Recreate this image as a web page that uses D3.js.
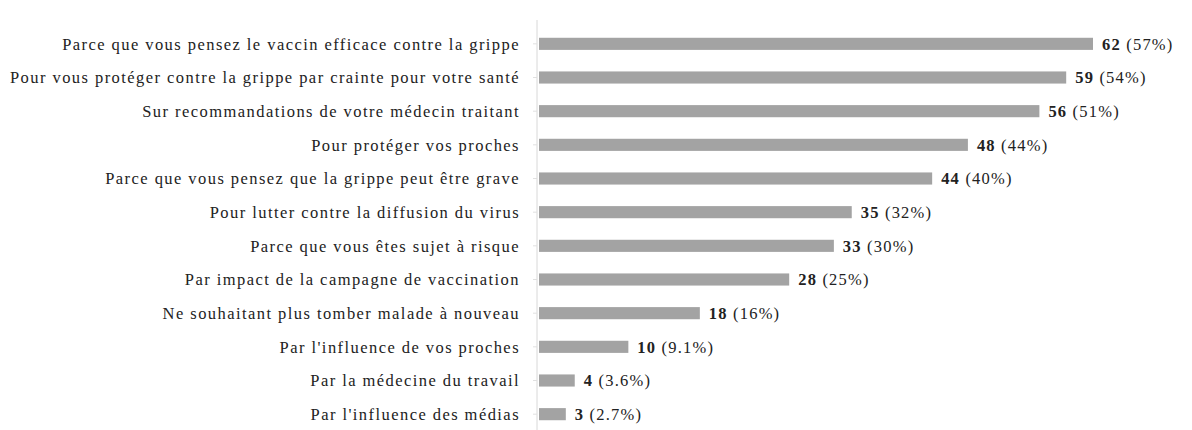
<!DOCTYPE html>
<html><head><meta charset="utf-8">
<script src="https://cdn.jsdelivr.net/npm/d3@7"></script>
<style>body{margin:0;background:#fff}svg{display:block}</style>
</head><body>
<svg id="c" width="1192" height="430"></svg>
<script>
const categories = [
  "Parce que vous pensez le vaccin efficace contre la grippe",
  "Pour vous protéger contre la grippe par crainte pour votre santé",
  "Sur recommandations de votre médecin traitant",
  "Pour protéger vos proches",
  "Parce que vous pensez que la grippe peut être grave",
  "Pour lutter contre la diffusion du virus",
  "Parce que vous êtes sujet à risque",
  "Par impact de la campagne de vaccination",
  "Ne souhaitant plus tomber malade à nouveau",
  "Par l'influence de vos proches",
  "Par la médecine du travail",
  "Par l'influence des médias"
];
const counts = [62, 59, 56, 48, 44, 35, 33, 28, 18, 10, 4, 3];
const percents = ["57%", "54%", "51%", "44%", "40%", "32%", "30%", "25%", "16%", "9.1%", "3.6%", "2.7%"];

const svg = d3.select("#c");
const axisX = 537;
const x = d3.scaleLinear().domain([0, 62]).range([axisX + 2, 1093]);
const y = d3.scaleBand().domain(categories).range([27, 431]).paddingInner(0.64).paddingOuter(0.32);

const font = "'Liberation Serif','Times New Roman',serif";

// axis
const ax = svg.append("g").attr("transform", `translate(${axisX},0)`)
  .call(d3.axisLeft(y).tickSize(4).tickFormat(""));
ax.select(".domain").attr("stroke", "#d8d8d8").attr("d", "M0,20V430");
ax.selectAll(".tick line").attr("stroke", "#e0e0e0");

// labels
svg.append("g").selectAll("text").data(categories).join("text")
  .attr("x", 520)
  .attr("y", d => y(d) + y.bandwidth() / 2)
  .attr("dy", "0.35em")
  .attr("text-anchor", "end")
  .attr("font-family", font)
  .attr("font-size", 16.5)
  .attr("letter-spacing", 1.44)
  .attr("fill", "#222")
  .text(d => d);

// bars
svg.append("g").selectAll("rect").data(counts).join("rect")
  .attr("x", x(0))
  .attr("y", (d, i) => y(categories[i]))
  .attr("width", d => x(d) - x(0))
  .attr("height", y.bandwidth())
  .attr("fill", "#a3a3a3");

// value labels
const vl = svg.append("g").selectAll("text").data(counts).join("text")
  .attr("x", d => x(d) + 9)
  .attr("y", (d, i) => y(categories[i]) + y.bandwidth() / 2)
  .attr("dy", "0.35em")
  .attr("font-family", font)
  .attr("font-size", 16.5)
  .attr("letter-spacing", 1.2)
  .attr("fill", "#222");
vl.append("tspan").attr("font-weight", "bold").text(d => d);
vl.append("tspan").text((d, i) => " (" + percents[i] + ")");
</script>
</body></html>
